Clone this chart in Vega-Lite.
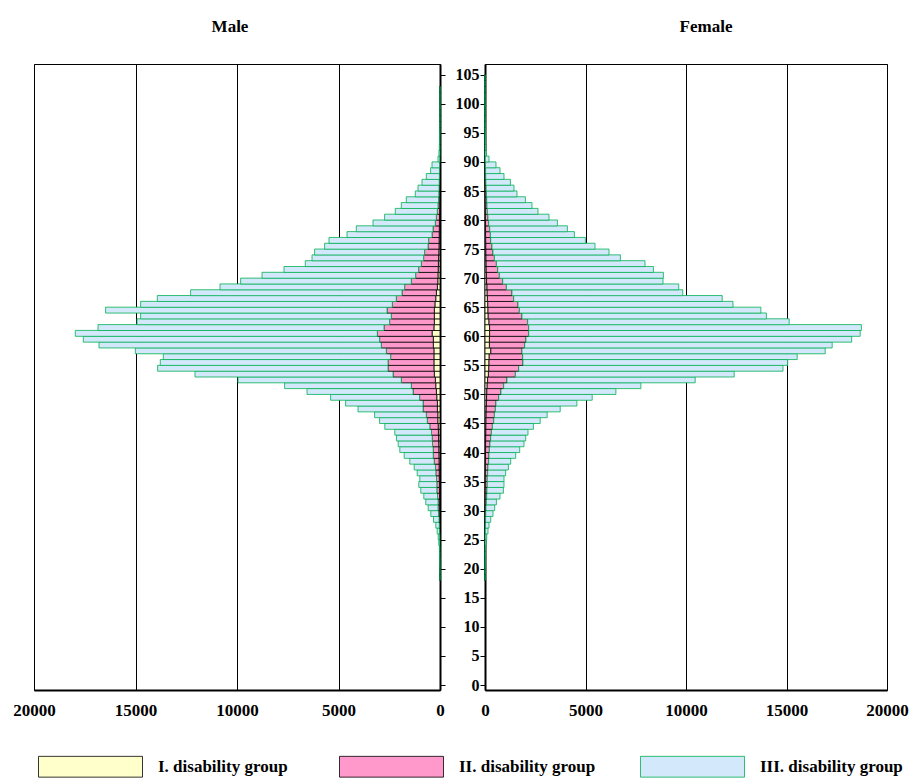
{
  "$schema": "https://vega.github.io/schema/vega-lite/v6.json",
  "padding": {"left": 12, "top": 17, "right": 0, "bottom": 0},
  "autosize": {"type": "pad"},
  "config": {
    "font": "Liberation Serif",
    "view": {"stroke": "black", "strokeWidth": 1},
    "axis": {"labelFont": "Liberation Serif", "labelFontWeight": "bold", "labelColor": "black", "domainColor": "black", "tickColor": "black"},
    "title": {"font": "Liberation Serif", "fontWeight": "bold", "fontSize": 17, "color": "black", "offset": 28},
    "concat": {"spacing": 8}
  },
  "data": {"values": [
    {"s":"M","a":18,"I":0,"II":0,"III":3},
    {"s":"M","a":19,"I":0,"II":0,"III":5},
    {"s":"M","a":20,"I":0,"II":0,"III":9},
    {"s":"M","a":21,"I":0,"II":0,"III":14},
    {"s":"M","a":22,"I":0,"II":1,"III":19},
    {"s":"M","a":23,"I":0,"II":2,"III":28},
    {"s":"M","a":24,"I":2,"II":8,"III":49},
    {"s":"M","a":25,"I":3,"II":12,"III":74},
    {"s":"M","a":26,"I":5,"II":20,"III":113},
    {"s":"M","a":27,"I":8,"II":27,"III":172},
    {"s":"M","a":28,"I":10,"II":39,"III":271},
    {"s":"M","a":29,"I":15,"II":59,"III":379},
    {"s":"M","a":30,"I":20,"II":79,"III":482},
    {"s":"M","a":31,"I":20,"II":79,"III":601},
    {"s":"M","a":32,"I":25,"II":98,"III":675},
    {"s":"M","a":33,"I":30,"II":128,"III":788},
    {"s":"M","a":34,"I":30,"II":128,"III":886},
    {"s":"M","a":35,"I":35,"II":137,"III":823},
    {"s":"M","a":36,"I":40,"II":167,"III":916},
    {"s":"M","a":37,"I":45,"II":177,"III":1049},
    {"s":"M","a":38,"I":50,"II":236,"III":1202},
    {"s":"M","a":39,"I":55,"II":280,"III":1429},
    {"s":"M","a":40,"I":60,"II":275,"III":1645},
    {"s":"M","a":41,"I":65,"II":304,"III":1690},
    {"s":"M","a":42,"I":70,"II":314,"III":1759},
    {"s":"M","a":43,"I":80,"II":339,"III":1808},
    {"s":"M","a":44,"I":90,"II":412,"III":2217},
    {"s":"M","a":45,"I":110,"II":516,"III":2349},
    {"s":"M","a":46,"I":110,"II":565,"III":2547},
    {"s":"M","a":47,"I":130,"II":707,"III":3202},
    {"s":"M","a":48,"I":130,"II":707,"III":3813},
    {"s":"M","a":49,"I":160,"II":845,"III":4384},
    {"s":"M","a":50,"I":180,"II":1150,"III":5222},
    {"s":"M","a":51,"I":210,"II":1204,"III":6241},
    {"s":"M","a":52,"I":230,"II":1676,"III":8045},
    {"s":"M","a":53,"I":280,"II":2035,"III":9754},
    {"s":"M","a":54,"I":300,"II":2262,"III":11349},
    {"s":"M","a":55,"I":300,"II":2262,"III":11216},
    {"s":"M","a":56,"I":300,"II":2133,"III":11197},
    {"s":"M","a":57,"I":300,"II":2345,"III":12364},
    {"s":"M","a":58,"I":330,"II":2562,"III":13906},
    {"s":"M","a":59,"I":330,"II":2645,"III":14596},
    {"s":"M","a":60,"I":390,"II":2699,"III":14876},
    {"s":"M","a":61,"I":300,"II":2459,"III":14088},
    {"s":"M","a":62,"I":280,"II":2203,"III":12443},
    {"s":"M","a":63,"I":280,"II":2119,"III":12349},
    {"s":"M","a":64,"I":280,"II":2331,"III":13861},
    {"s":"M","a":65,"I":250,"II":2100,"III":12398},
    {"s":"M","a":66,"I":210,"II":1943,"III":11773},
    {"s":"M","a":67,"I":180,"II":1692,"III":10413},
    {"s":"M","a":68,"I":130,"II":1614,"III":9093},
    {"s":"M","a":69,"I":110,"II":1304,"III":8408},
    {"s":"M","a":70,"I":100,"II":1102,"III":7566},
    {"s":"M","a":71,"I":90,"II":964,"III":6630},
    {"s":"M","a":72,"I":80,"II":841,"III":5714},
    {"s":"M","a":73,"I":70,"II":738,"III":5497},
    {"s":"M","a":74,"I":60,"II":699,"III":5418},
    {"s":"M","a":75,"I":50,"II":541,"III":5094},
    {"s":"M","a":76,"I":45,"II":517,"III":4906},
    {"s":"M","a":77,"I":40,"II":354,"III":4187},
    {"s":"M","a":78,"I":35,"II":310,"III":3778},
    {"s":"M","a":79,"I":30,"II":202,"III":3068},
    {"s":"M","a":80,"I":25,"II":157,"III":2547},
    {"s":"M","a":81,"I":20,"II":113,"III":2069},
    {"s":"M","a":82,"I":15,"II":84,"III":1807},
    {"s":"M","a":83,"I":14,"II":60,"III":1586},
    {"s":"M","a":84,"I":12,"II":48,"III":1157},
    {"s":"M","a":85,"I":10,"II":40,"III":1034},
    {"s":"M","a":86,"I":8,"II":32,"III":847},
    {"s":"M","a":87,"I":6,"II":24,"III":645},
    {"s":"M","a":88,"I":5,"II":20,"III":438},
    {"s":"M","a":89,"I":5,"II":15,"III":374},
    {"s":"M","a":90,"I":2,"II":8,"III":90},
    {"s":"M","a":91,"I":0,"II":2,"III":50},
    {"s":"M","a":92,"I":0,"II":0,"III":35},
    {"s":"M","a":93,"I":0,"II":0,"III":25},
    {"s":"M","a":94,"I":0,"II":0,"III":18},
    {"s":"M","a":95,"I":0,"II":0,"III":12},
    {"s":"M","a":96,"I":0,"II":0,"III":9},
    {"s":"M","a":97,"I":0,"II":0,"III":6},
    {"s":"M","a":98,"I":0,"II":0,"III":4},
    {"s":"M","a":99,"I":0,"II":0,"III":3},
    {"s":"M","a":100,"I":0,"II":0,"III":2},
    {"s":"M","a":101,"I":0,"II":0,"III":2},
    {"s":"M","a":102,"I":0,"II":0,"III":1},
    {"s":"F","a":18,"I":0,"II":0,"III":3},
    {"s":"F","a":19,"I":0,"II":0,"III":6},
    {"s":"F","a":20,"I":0,"II":0,"III":10},
    {"s":"F","a":21,"I":0,"II":0,"III":15},
    {"s":"F","a":22,"I":0,"II":0,"III":20},
    {"s":"F","a":23,"I":0,"II":1,"III":29},
    {"s":"F","a":24,"I":0,"II":3,"III":47},
    {"s":"F","a":25,"I":1,"II":7,"III":77},
    {"s":"F","a":26,"I":2,"II":10,"III":137},
    {"s":"F","a":27,"I":3,"II":17,"III":179},
    {"s":"F","a":28,"I":4,"II":26,"III":254},
    {"s":"F","a":29,"I":5,"II":35,"III":358},
    {"s":"F","a":30,"I":6,"II":44,"III":433},
    {"s":"F","a":31,"I":8,"II":57,"III":502},
    {"s":"F","a":32,"I":10,"II":75,"III":661},
    {"s":"F","a":33,"I":12,"II":87,"III":816},
    {"s":"F","a":34,"I":15,"II":99,"III":831},
    {"s":"F","a":35,"I":15,"II":99,"III":831},
    {"s":"F","a":36,"I":18,"II":116,"III":896},
    {"s":"F","a":37,"I":20,"II":129,"III":1015},
    {"s":"F","a":38,"I":22,"II":162,"III":1095},
    {"s":"F","a":39,"I":25,"II":174,"III":1328},
    {"s":"F","a":40,"I":28,"II":191,"III":1507},
    {"s":"F","a":41,"I":30,"II":219,"III":1691},
    {"s":"F","a":42,"I":35,"II":249,"III":1741},
    {"s":"F","a":43,"I":40,"II":278,"III":1821},
    {"s":"F","a":44,"I":45,"II":323,"III":2040},
    {"s":"F","a":45,"I":50,"II":383,"III":2313},
    {"s":"F","a":46,"I":55,"II":413,"III":2626},
    {"s":"F","a":47,"I":60,"II":457,"III":3224},
    {"s":"F","a":48,"I":70,"II":477,"III":4025},
    {"s":"F","a":49,"I":80,"II":602,"III":4651},
    {"s":"F","a":50,"I":90,"II":706,"III":5716},
    {"s":"F","a":51,"I":110,"II":820,"III":6826},
    {"s":"F","a":52,"I":130,"II":965,"III":9362},
    {"s":"F","a":53,"I":170,"II":1342,"III":10886},
    {"s":"F","a":54,"I":190,"II":1487,"III":13149},
    {"s":"F","a":55,"I":200,"II":1691,"III":13168},
    {"s":"F","a":56,"I":210,"II":1666,"III":13656},
    {"s":"F","a":57,"I":290,"II":1551,"III":15084},
    {"s":"F","a":58,"I":220,"II":1755,"III":15298},
    {"s":"F","a":59,"I":220,"II":1820,"III":16203},
    {"s":"F","a":60,"I":230,"II":1944,"III":16492},
    {"s":"F","a":61,"I":230,"II":1944,"III":16552},
    {"s":"F","a":62,"I":200,"II":1924,"III":13010},
    {"s":"F","a":63,"I":160,"II":1681,"III":12159},
    {"s":"F","a":64,"I":150,"II":1561,"III":12015},
    {"s":"F","a":65,"I":140,"II":1502,"III":10696},
    {"s":"F","a":66,"I":120,"II":1308,"III":10373},
    {"s":"F","a":67,"I":110,"II":1233,"III":8493},
    {"s":"F","a":68,"I":100,"II":965,"III":8572},
    {"s":"F","a":69,"I":80,"II":801,"III":7975},
    {"s":"F","a":70,"I":70,"II":646,"III":8159},
    {"s":"F","a":71,"I":60,"II":572,"III":7746},
    {"s":"F","a":72,"I":55,"II":512,"III":7393},
    {"s":"F","a":73,"I":50,"II":418,"III":6268},
    {"s":"F","a":74,"I":45,"II":353,"III":5771},
    {"s":"F","a":75,"I":40,"II":308,"III":5125},
    {"s":"F","a":76,"I":35,"II":249,"III":4711},
    {"s":"F","a":77,"I":30,"II":239,"III":4179},
    {"s":"F","a":78,"I":28,"II":206,"III":3865},
    {"s":"F","a":79,"I":25,"II":159,"III":3418},
    {"s":"F","a":80,"I":20,"II":129,"III":3035},
    {"s":"F","a":81,"I":18,"II":101,"III":2518},
    {"s":"F","a":82,"I":15,"II":85,"III":2238},
    {"s":"F","a":83,"I":12,"II":73,"III":1925},
    {"s":"F","a":84,"I":10,"II":60,"III":1522},
    {"s":"F","a":85,"I":8,"II":47,"III":1388},
    {"s":"F","a":86,"I":6,"II":39,"III":1219},
    {"s":"F","a":87,"I":5,"II":30,"III":910},
    {"s":"F","a":88,"I":4,"II":24,"III":718},
    {"s":"F","a":89,"I":3,"II":17,"III":527},
    {"s":"F","a":90,"I":2,"II":8,"III":189},
    {"s":"F","a":91,"I":0,"II":2,"III":60},
    {"s":"F","a":92,"I":0,"II":1,"III":40},
    {"s":"F","a":93,"I":0,"II":0,"III":30},
    {"s":"F","a":94,"I":0,"II":0,"III":20},
    {"s":"F","a":95,"I":0,"II":0,"III":15},
    {"s":"F","a":96,"I":0,"II":0,"III":10},
    {"s":"F","a":97,"I":0,"II":0,"III":8},
    {"s":"F","a":98,"I":0,"II":0,"III":6},
    {"s":"F","a":99,"I":0,"II":0,"III":5},
    {"s":"F","a":100,"I":0,"II":0,"III":4},
    {"s":"F","a":101,"I":0,"II":0,"III":3},
    {"s":"F","a":102,"I":0,"II":0,"III":2},
    {"s":"F","a":103,"I":0,"II":0,"III":1},
    {"s":"F","a":104,"I":0,"II":0,"III":1}
  ]},
  "transform": [{"fold": ["I", "II", "III"], "as": ["group", "n"]}],
  "hconcat": [
    {
      "title": {"text": "Male", "dx": -7},
      "width": 406,
      "height": 626,
      "transform": [{"filter": "datum.s === 'M'"}],
      "mark": {"type": "bar", "orient": "horizontal", "height": 5.906, "yOffset": -2.953},
      "encoding": {
        "y": {"field": "a", "type": "quantitative",
              "scale": {"domain": [0, 106], "nice": false},
              "axis": {"orient": "right", "values": [0,5,10,15,20,25,30,35,40,45,50,55,60,65,70,75,80,85,90,95,100,105], "labels": false, "title": null, "grid": false, "tickSize": 5, "domainWidth": 2, "tickWidth": 1}},
        "x": {"field": "n", "type": "quantitative", "stack": "zero",
              "scale": {"domain": [0, 20000], "reverse": true, "nice": false},
              "axis": {"values": [0, 5000, 10000, 15000, 20000], "format": "d", "title": null, "grid": true, "gridColor": "black", "gridWidth": 1, "gridOpacity": 1, "ticks": false, "domainWidth": 2, "labelFontSize": 17, "labelPadding": 12, "labelFlush": false}},
        "color": {"field": "group", "type": "nominal",
                  "scale": {"domain": ["I", "II", "III"], "range": ["#ffffcc", "#ff99cc", "#d3e8fb"]},
                  "legend": {"title": null, "orient": "none", "legendX": 4, "legendY": 650, "direction": "horizontal", "columns": 3, "gridAlign": "all", "columnPadding": 36, "symbolType": "M-1,-0.2H1V0.2H-1Z", "symbolSize": 10816, "symbolStrokeWidth": 1, "labelOffset": 15, "labelFontSize": 17, "labelFont": "Liberation Serif", "labelFontWeight": "bold", "labelColor": "black", "labelLimit": 300, "labelExpr": "datum.label + '. disability group'",
                             "encode": {"symbols": {"update": {
                               "fill": [{"test": "datum.value === 'III'", "value": "#3dba6a"}, {"test": "datum.value === 'II'", "value": "#ff99cc"}, {"value": "#ffffcc"}],
                               "stroke": [{"test": "datum.value === 'III'", "value": "#00b050"}, {"value": "#333333"}],
                               "fillOpacity": {"value": 1}, "strokeWidth": {"value": 1}}}}}},
        "stroke": {"field": "group", "type": "nominal",
                   "scale": {"domain": ["I", "II", "III"], "range": ["#000000", "#000000", "#00b050"]}, "legend": null},
        "strokeWidth": {"field": "group", "type": "nominal", "scale": {"domain": ["I", "II", "III"], "range": [0.8, 0.8, 1.5]}, "legend": null},
        "order": {"field": "group"}
      }
    },
    {
      "title": {"text": "Female", "dx": 20},
      "width": 402,
      "height": 626,
      "transform": [{"filter": "datum.s === 'F'"}],
      "mark": {"type": "bar", "orient": "horizontal", "height": 5.906, "yOffset": -2.953},
      "encoding": {
        "y": {"field": "a", "type": "quantitative",
              "scale": {"domain": [0, 106], "nice": false},
              "axis": {"orient": "left", "values": [0,5,10,15,20,25,30,35,40,45,50,55,60,65,70,75,80,85,90,95,100,105], "title": null, "grid": false, "tickSize": 5, "domainWidth": 2, "tickWidth": 1, "labelFontSize": 16, "labelPadding": 1}},
        "x": {"field": "n", "type": "quantitative", "stack": "zero",
              "scale": {"domain": [0, 20000], "nice": false},
              "axis": {"values": [0, 5000, 10000, 15000, 20000], "format": "d", "title": null, "grid": true, "gridColor": "black", "gridWidth": 1, "gridOpacity": 1, "ticks": false, "domainWidth": 2, "labelFontSize": 17, "labelPadding": 12, "labelFlush": false}},
        "color": {"field": "group", "type": "nominal"},
        "stroke": {"field": "group", "type": "nominal", "legend": null},
        "strokeWidth": {"field": "group", "type": "nominal", "legend": null},
        "order": {"field": "group"}
      }
    }
  ]
}
